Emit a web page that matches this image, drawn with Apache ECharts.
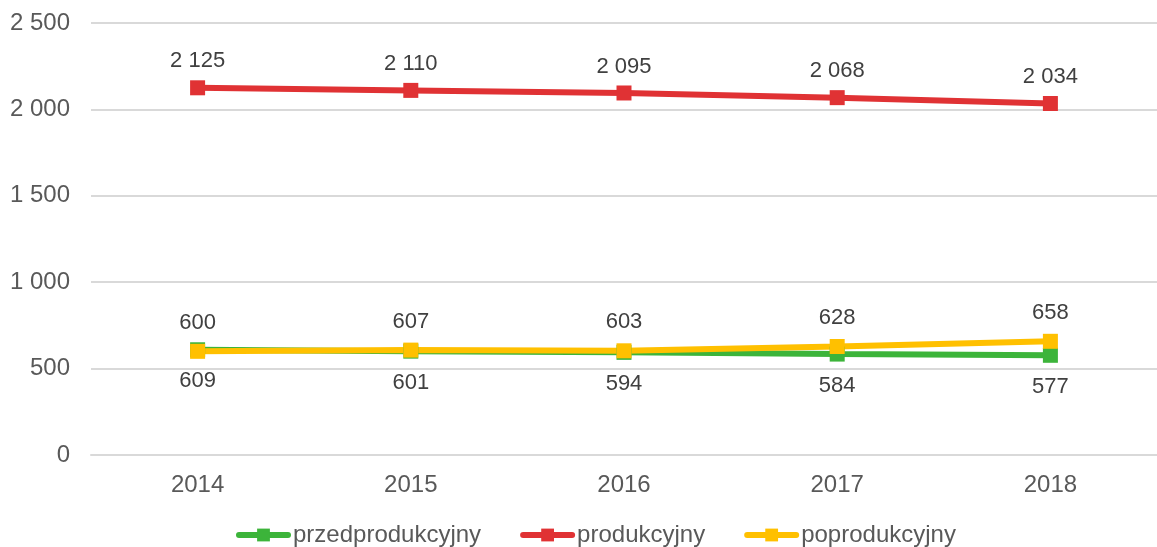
<!DOCTYPE html>
<html>
<head>
<meta charset="utf-8">
<script src="https://cdn.jsdelivr.net/npm/echarts@6/dist/echarts.min.js"></script>
<style>
html,body{margin:0;padding:0;background:#fff;}
#chart{width:1157px;height:547px;}
</style>
</head>
<body>
<div id="chart"></div>
<script>
var years = ['2014', '2015', '2016', '2017', '2018'];
var przedprodukcyjny = [609, 601, 594, 584, 577];
var produkcyjny = [2125, 2110, 2095, 2068, 2034];
var poprodukcyjny = [600, 607, 603, 628, 658];

function fmt(v){
	return String(v).replace(/\B(?=(\d{3})+(?!\d))/g, ' ');
}

var myChart = echarts.init(document.getElementById('chart'));

function makeSeries(name, data, color, labelPos, dist){
	return {
		name: name,
		type: 'line',
		data: data,
		symbol: 'rect',
		symbolSize: 15,
		lineStyle: { color: color, width: 6 },
		itemStyle: { color: color },
		label: {
			show: true,
			position: labelPos,
			distance: dist,
			color: '#404040',
			fontSize: 22,
			fontFamily: 'Liberation Sans',
			formatter: function(p){ return fmt(p.value); }
		},
		animation: false
	};
}

var option = {
	textStyle: { fontFamily: 'Liberation Sans' },
	grid: { left: 91, right: -10, top: 23, bottom: 92 },
	legend: {
		left: 231,
		bottom: -5,
		itemWidth: 49,
		itemHeight: 16,
		itemGap: 39,
		lineStyle: { width: 6, cap: 'round' },
		textStyle: { color: '#595959', fontSize: 24, fontFamily: 'Liberation Sans' },
		data: ['przedprodukcyjny', 'produkcyjny', 'poprodukcyjny']
	},
	xAxis: {
		type: 'category',
		data: years,
		boundaryGap: true,
		axisLine: { lineStyle: { color: '#d9d9d9', width: 2 } },
		axisTick: { show: false },
		axisLabel: { color: '#595959', fontSize: 24, margin: 18 }
	},
	yAxis: {
		type: 'value',
		min: 0,
		max: 2500,
		interval: 500,
		axisLine: { show: false },
		axisTick: { show: false },
		splitLine: { lineStyle: { color: '#d9d9d9', width: 2 } },
		axisLabel: { color: '#595959', fontSize: 24, margin: 21, formatter: fmt }
	},
	series: [
		makeSeries('przedprodukcyjny', przedprodukcyjny, '#3cb43a', 'bottom', 13),
		makeSeries('produkcyjny', produkcyjny, '#e03234', 'top', 8),
		makeSeries('poprodukcyjny', poprodukcyjny, '#ffc000', 'top', 10)
	]
};
myChart.setOption(option);
</script>
</body>
</html>
